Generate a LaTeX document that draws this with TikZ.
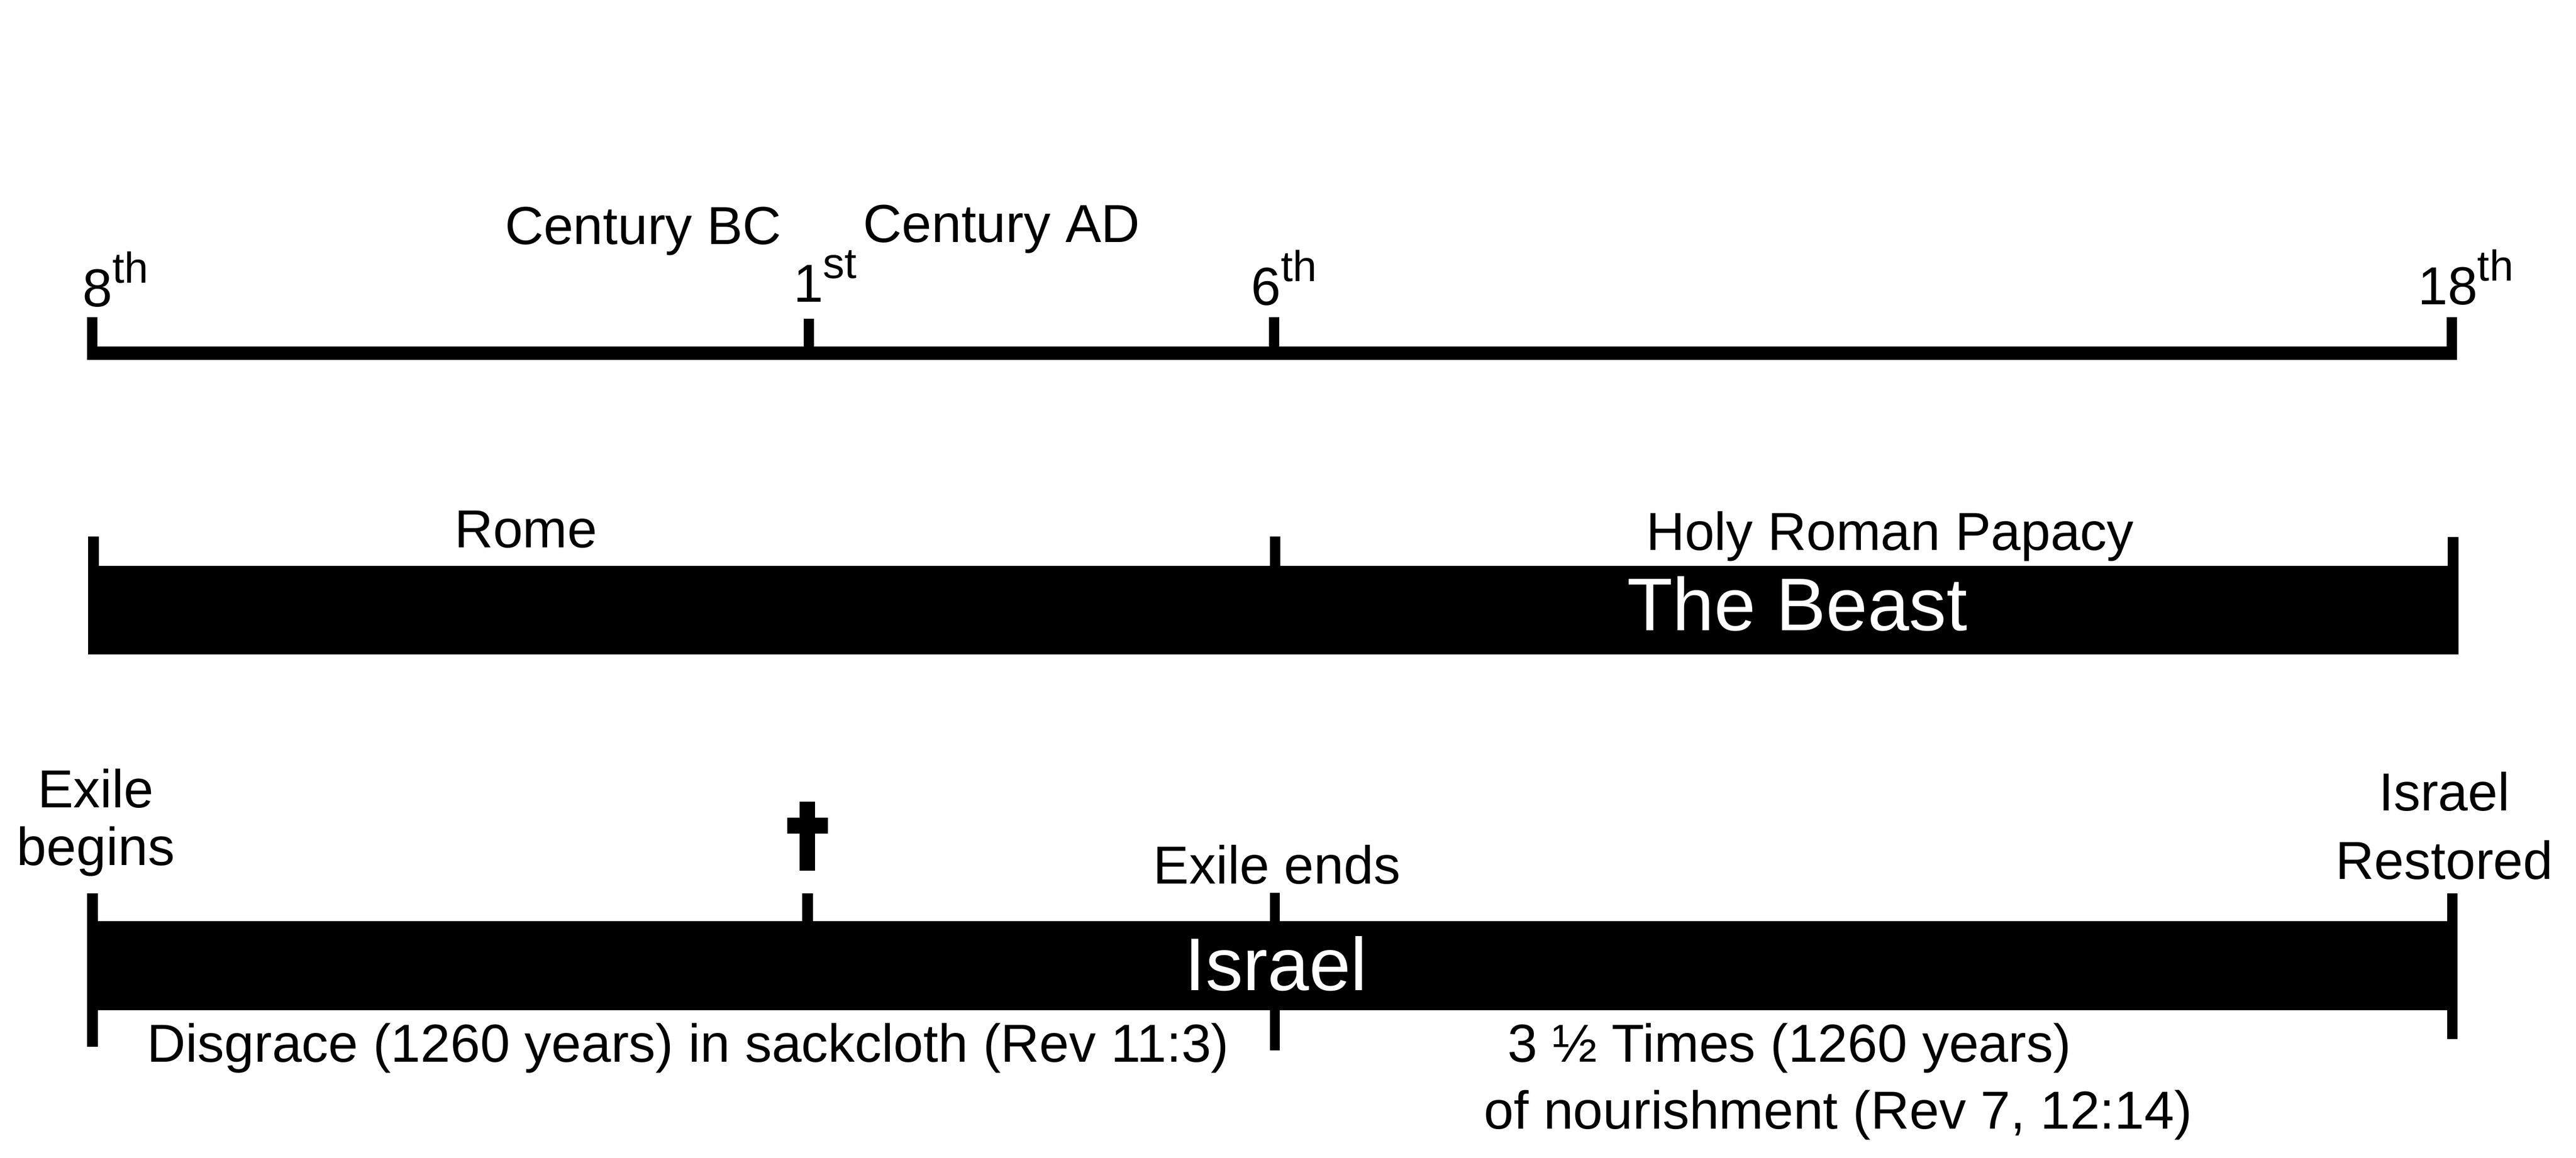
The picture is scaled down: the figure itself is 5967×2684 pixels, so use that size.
\documentclass[tikz,border=0pt]{standalone}
\usepackage{fontspec}
\setmainfont{Liberation Sans}
\newcommand\supr[1]{\raisebox{5.5pt}{\fontsize{10}{12}\selectfont #1}}
\begin{document}
\begin{tikzpicture}[x=0.1pt,y=-0.1pt,
  lbl/.style={font=\fontsize{12.4}{14.9}\selectfont, inner sep=0pt, anchor=base},
  biglbl/.style={font=\fontsize{17.3}{20}\selectfont, text=white, inner sep=0pt, anchor=base},
  ink/.style={fill=black, draw=none}]
\useasboundingbox (0,0) rectangle (5967,2684);

% ---------- top century axis ----------
\coordinate (a8)  at (202,803);
\coordinate (a1)  at (1862,803);
\coordinate (a6)  at (2939,803);
\coordinate (a18) at (5667,803);
\fill[ink] (202,803) rectangle (5691,834);
\fill[ink] (a8)  rectangle ++(24,-68);
\fill[ink] (a1)  rectangle ++(23,-64);
\fill[ink] (a6)  rectangle ++(24,-68);
\fill[ink] (a18) rectangle ++(24,-68);

\node[lbl, anchor=base west] (l8)  at (190,711)  {8\supr{th}};
\node[lbl, anchor=base west] (l1)  at (1836,700) {1\supr{st}};
\node[lbl, anchor=base west] (l6)  at (2896,707) {6\supr{th}};
\node[lbl, anchor=base west] (l18) at (5599,706) {18\supr{th}};
\node[lbl] (cbc) at (1490,566) {Century BC};
\node[lbl] (cad) at (2320,562) {Century AD};

% ---------- The Beast bar ----------
\coordinate (b8)  at (204,1311);
\coordinate (b6)  at (2942,1311);
\coordinate (b18) at (5670,1311);
\fill[ink] (204,1311) rectangle (5695,1517);
\fill[ink] (b8)  rectangle ++(25,-68);
\fill[ink] (b6)  rectangle ++(24,-67);
\fill[ink] (b18) rectangle ++(25,-66);
\node[lbl] (rome) at (1218,1269) {Rome};
\node[lbl] (hrp)  at (4378,1275) {Holy Roman Papacy};
\node[biglbl] (beast) at (4163,1461) {The Beast};

% ---------- Israel bar ----------
\coordinate (c8)  at (202,2135);
\coordinate (c1)  at (1858,2135);
\coordinate (c6)  at (2942,2135);
\coordinate (c18) at (5669,2135);
\fill[ink] (202,2135) rectangle (5693,2341);
\fill[ink] (c8)  rectangle ++(25,-65);
\fill[ink] (c1)  rectangle ++(25,-65);
\fill[ink] (c6)  rectangle ++(22,-66);
\fill[ink] (c18) rectangle ++(24,-65);
\fill[ink] (202,2341)  rectangle (227,2426);
\fill[ink] (2942,2341) rectangle (2964,2434);
\fill[ink] (5669,2341) rectangle (5693,2408);

% cross
\fill[ink] (1852,1858) rectangle (1888,2018);
\fill[ink] (1824,1895) rectangle (1918,1932);

\node[lbl] (exb) at (222,2006)
  {\fontsize{12.4}{13.4}\selectfont\begin{tabular}[b]{@{}c@{}}Exile\\begins\end{tabular}};
\node[lbl] (exe) at (2958,2048) {Exile ends};
\node[lbl] (isr) at (5662,2038)
  {\fontsize{12.4}{15.9}\selectfont\begin{tabular}[b]{@{}c@{}}Israel\\Restored\end{tabular}};
\node[biglbl] (israel) at (2956,2295) {Israel};
\node[lbl] (disg) at (1594,2461) {Disgrace (1260 years) in sackcloth (Rev 11:3)};
\node[lbl] (nour) at (4258,2616)
  {\fontsize{12.4}{15.5}\selectfont\begin{tabular}[b]{@{}c@{}}3 ½ Times (1260 years)\hspace*{22.6pt}\\of nourishment (Rev 7, 12:14)\end{tabular}};
\end{tikzpicture}
\end{document}
